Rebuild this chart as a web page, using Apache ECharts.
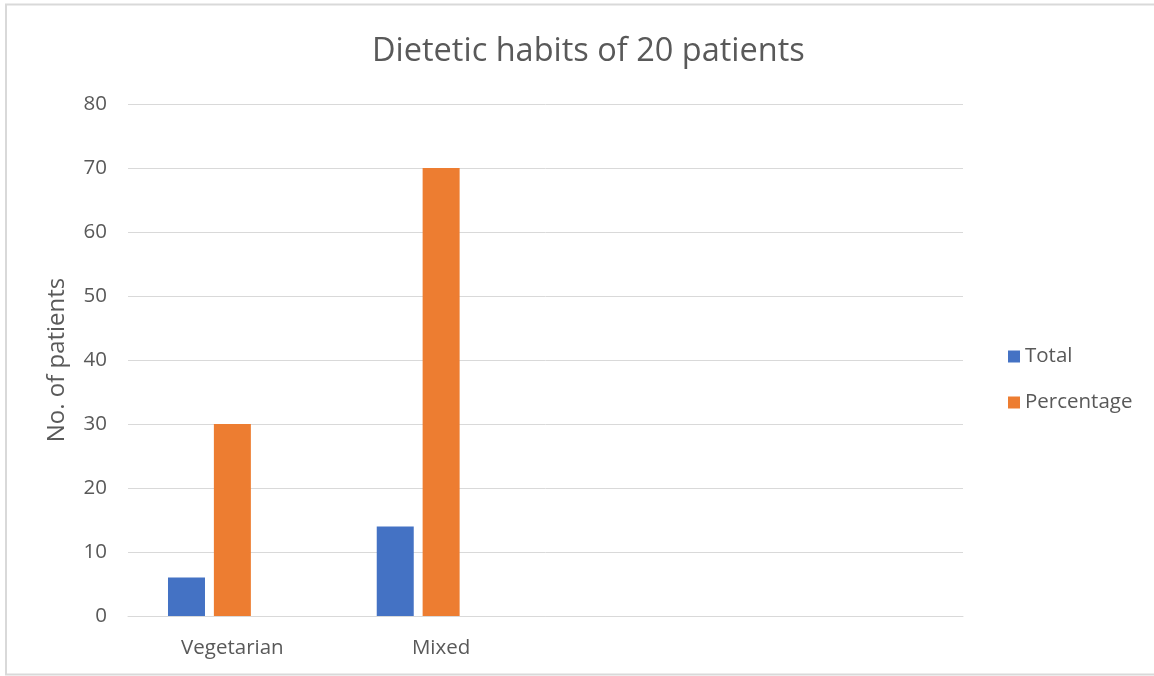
<!DOCTYPE html>
<html>
<head>
<meta charset="utf-8">
<style>
  html, body { margin: 0; padding: 0; background: #ffffff; }
  #chart { width: 1154px; height: 676px; }
</style>
<script src="https://cdn.jsdelivr.net/npm/echarts@6/dist/echarts.min.js"></script>
</head>
<body>
<div id="chart"></div>
<script>
// Diet categories (the last two slots are left blank on the axis)
const categories = ['Vegetarian', 'Mixed', '', ''];
const totalValues = [6, 14, null, null];
const percentageValues = [30, 70, null, null];
const spareValues = [null, null, null, null];
const yTicks = { min: 0, max: 80, step: 10 };

const textColor = '#595959';
const fontFamily = '"Open Sans", "Noto Sans", sans-serif';

const chart = echarts.init(document.getElementById('chart'), null, { renderer: 'canvas' });

chart.setOption({
  backgroundColor: '#ffffff',
  animation: false,
  title: {
    text: 'Dietetic habits of 20 patients',
    left: 367,
    top: 30,
    textStyle: { color: textColor, fontSize: 32.5, fontWeight: 'normal', fontFamily: fontFamily }
  },
  graphic: [{
    type: 'rect',
    shape: { x: 6, y: 4.5, width: 1200, height: 670 },
    style: { fill: 'none', stroke: '#d9d9d9', lineWidth: 2 },
    silent: true
  }],
  legend: {
    data: ['Total', 'Percentage'],
    orient: 'vertical',
    left: 1003,
    top: 341,
    itemWidth: 12,
    itemHeight: 12,
    itemGap: 25,
    icon: 'rect',
    textStyle: { color: textColor, fontSize: 20.5, fontFamily: fontFamily }
  },
  grid: { left: 128, right: 191, top: 104, bottom: 60, containLabel: false },
  xAxis: {
    type: 'category',
    data: categories,
    axisLine: { show: true, lineStyle: { color: '#d9d9d9', width: 1 } },
    axisTick: { show: false },
    axisLabel: { color: textColor, fontSize: 20.5, fontFamily: fontFamily, margin: 22 }
  },
  yAxis: {
    type: 'value',
    min: yTicks.min,
    max: yTicks.max,
    interval: yTicks.step,
    name: 'No. of patients',
    nameLocation: 'middle',
    nameGap: 59,
    nameTextStyle: { color: textColor, fontSize: 24, fontFamily: fontFamily },
    axisLine: { show: false },
    axisTick: { show: false },
    axisLabel: { color: textColor, fontSize: 20.5, fontFamily: fontFamily, margin: 21 },
    splitLine: { lineStyle: { color: '#d9d9d9', width: 1 } }
  },
  series: [
    {
      name: 'Total',
      type: 'bar',
      data: totalValues,
      barWidth: 37,
      barGap: '24%',
      itemStyle: { color: '#4472c4' }
    },
    {
      name: 'Percentage',
      type: 'bar',
      data: percentageValues,
      barWidth: 37,
      barGap: '24%',
      itemStyle: { color: '#ed7d31' }
    },
    {
      name: 'Series3',
      type: 'bar',
      data: spareValues,
      barWidth: 37,
      barGap: '24%',
      itemStyle: { color: '#a5a5a5' }
    }
  ]
});
</script>
</body>
</html>
